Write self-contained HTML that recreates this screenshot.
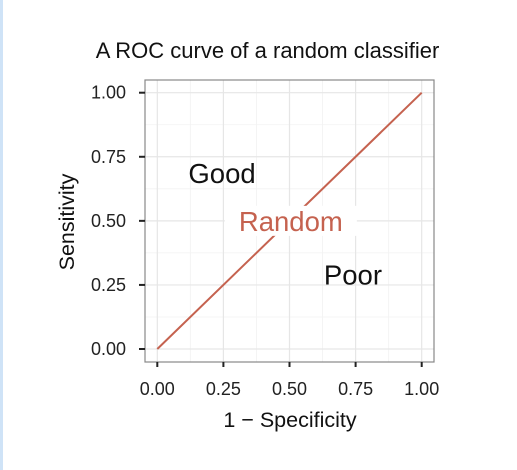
<!DOCTYPE html>
<html><head><meta charset="utf-8"><style>
body{margin:0;background:#fff;}
svg{display:block;font-family:"Liberation Sans",Arial,sans-serif;}
</style></head><body>
<svg id="chart" width="517" height="470" viewBox="0 0 517 470">
<rect x="0" y="0" width="3" height="470" fill="#cfe3f7"/>
<text x="267.5" y="58" text-anchor="middle" font-size="22" fill="#111">A ROC curve of a random classifier</text>
<g id="grid"></g>
<rect x="145" y="80" width="289" height="282" fill="none" stroke="#888" stroke-width="1.2"/>
<g id="axes"></g>
<g id="series"></g>
<text x="290" y="427" text-anchor="middle" font-size="21.5" fill="#111">1 − Specificity</text>
<text transform="translate(74,222) rotate(-90)" text-anchor="middle" font-size="21.5" fill="#111">Sensitivity</text>
</svg>
<script>
const ticks=[0,0.25,0.5,0.75,1];
const tickLabels=["0.00","0.25","0.50","0.75","1.00"];
const lineX=[0,1];
const lineY=[0,1];
const regionLabels=["Good","Random","Poor"];
const regionX=[0.245,0.505,0.74];
const regionY=[0.687,0.5,0.29];
const NS="http://www.w3.org/2000/svg";
const sx=v=>157.3+v*(421.7-157.3);
const sy=v=>349-v*(349-92.7);
function mk(t,a,p){const e=document.createElementNS(NS,t);for(const k in a)e.setAttribute(k,a[k]);p.appendChild(e);return e;}
const grid=document.getElementById('grid'),axes=document.getElementById('axes'),ser=document.getElementById('series');
const minors=[];for(let i=0;i<ticks.length-1;i++)minors.push((ticks[i]+ticks[i+1])/2);
minors.forEach(v=>{
 const a=mk('line',{x1:sx(v),x2:sx(v),y1:80,y2:362,stroke:'#f2f2f2','stroke-width':0.8},grid);
 
 const b=mk('line',{x1:145,x2:434,y1:sy(v),y2:sy(v),stroke:'#f2f2f2','stroke-width':0.8},grid);
 
});
ticks.forEach((v,i)=>{
 const a=mk('line',{x1:sx(v),x2:sx(v),y1:80,y2:362,stroke:'#e6e6e6','stroke-width':1.2},grid);
 
 const b=mk('line',{x1:145,x2:434,y1:sy(v),y2:sy(v),stroke:'#e6e6e6','stroke-width':1.2},grid);
 
 const tx=mk('line',{x1:sx(v),x2:sx(v),y1:362,y2:367,stroke:'#222','stroke-width':2},axes);
 
 const ty=mk('line',{x1:139,x2:145,y1:sy(v),y2:sy(v),stroke:'#222','stroke-width':2},axes);
 
 const lx=mk('text',{x:sx(v),y:395,'text-anchor':'middle','font-size':18,fill:'#222'},axes);lx.textContent=tickLabels[i];
 
 const ly=mk('text',{x:126,y:sy(v)+6,'text-anchor':'end','font-size':18,fill:'#222'},axes);ly.textContent=tickLabels[i];
 
});
const ln=mk('line',{x1:sx(lineX[0]),y1:sy(lineY[0]),x2:sx(lineX[1]),y2:sy(lineY[1]),stroke:'#c5624f','stroke-width':2},ser);

regionLabels.forEach((t,i)=>{
 const isR=t==="Random";
 if(isR){const r=mk('rect',{x:sx(regionX[i])-66,y:sy(regionY[i])-15,width:132,height:30,fill:'#fff'},ser);
  }
 const tx=mk('text',{x:sx(regionX[i]),y:sy(regionY[i])+10,'text-anchor':'middle','font-size':27.5,fill:isR?'#c5624f':'#111'},ser);
 tx.textContent=t;
 
});
</script>
</body></html>
